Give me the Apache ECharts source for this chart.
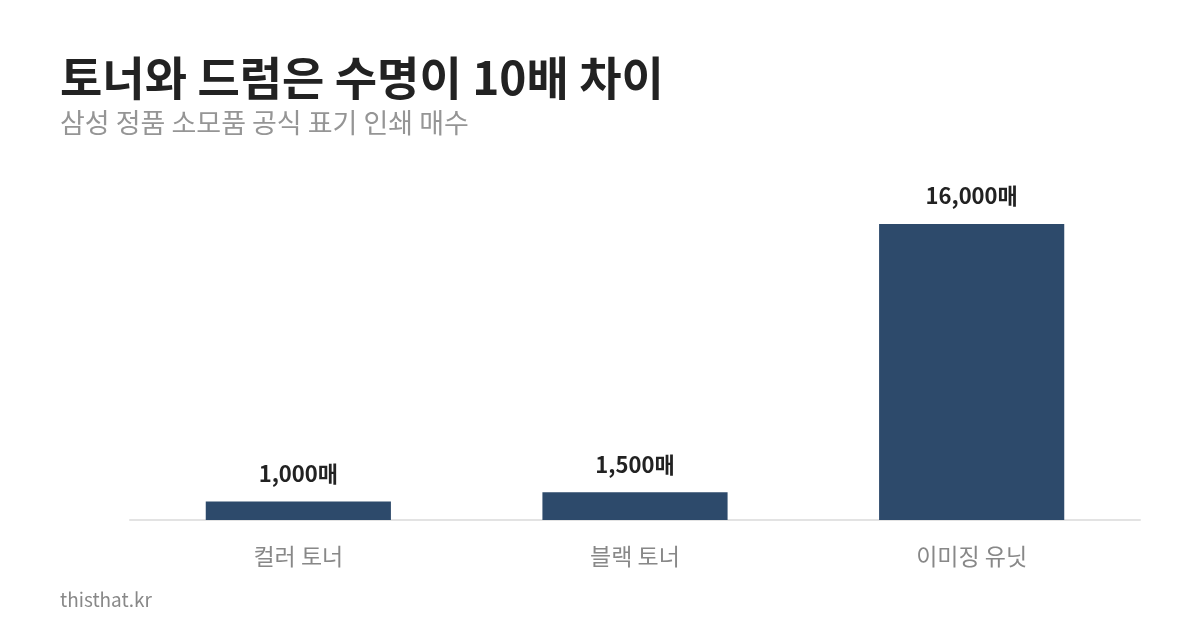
<!DOCTYPE html>
<html>
<head>
<meta charset="utf-8">
<script src="https://cdn.jsdelivr.net/npm/echarts@6/dist/echarts.min.js"></script>
<style>
  html, body { margin: 0; padding: 0; background: #fff; }
  #chart { width: 1200px; height: 630px; }
</style>
</head>
<body>
<div id="chart"></div>
<script>
// 데이터
const categories = ["컬러 토너", "블랙 토너", "이미징 유닛"];
const pages = [1000, 1500, 16000];
const unit = "매";

const FONT = '"Noto Sans CJK KR", "Noto Sans", sans-serif';

const chart = echarts.init(document.getElementById("chart"), null, { renderer: "canvas" });

const option = {
    backgroundColor: "#ffffff",
    animation: false,
    title: [
        {
            text: "토너와 드럼은 수명이 10배 차이",
            left: 60,
            top: 53,
            padding: 0,
            textStyle: { fontFamily: FONT, fontSize: 46, fontWeight: "bold", color: "#222222", lineHeight: 50 }
        },
        {
            text: "삼성 정품 소모품 공식 표기 인쇄 매수",
            left: 60,
            top: 107,
            padding: 0,
            textStyle: { fontFamily: FONT, fontSize: 27, fontWeight: "normal", color: "#959595", lineHeight: 32 }
        },
        {
            text: "thisthat.kr",
            left: 60,
            top: 588,
            padding: 0,
            textStyle: { fontFamily: FONT, fontSize: 19, fontWeight: "normal", color: "#888888", lineHeight: 24 }
        }
    ],
    grid: { left: 130, right: 60, top: 224, bottom: 110 },
    xAxis: {
        type: "category",
        data: categories,
        axisLine: { lineStyle: { color: "#e3e3e3", width: 2 } },
        axisTick: { show: false },
        axisLabel: { fontFamily: FONT, fontSize: 23, color: "#888888", margin: 25 }
    },
    yAxis: {
        type: "value",
        min: 0,
        max: 16000,
        show: false,
        splitLine: { show: false }
    },
    series: [
        {
            type: "bar",
            data: pages,
            barWidth: "55%",
            itemStyle: { color: "#2d4a6b" },
            label: {
                show: true,
                position: "top",
                distance: 17,
                fontFamily: FONT,
                fontSize: 22,
                fontWeight: "bold",
                color: "#222222",
                formatter: (p) => p.value.toLocaleString("en-US") + unit
            }
        }
    ]
};

chart.setOption(option);
window.addEventListener("resize", chart.resize);
</script>
</body>
</html>
